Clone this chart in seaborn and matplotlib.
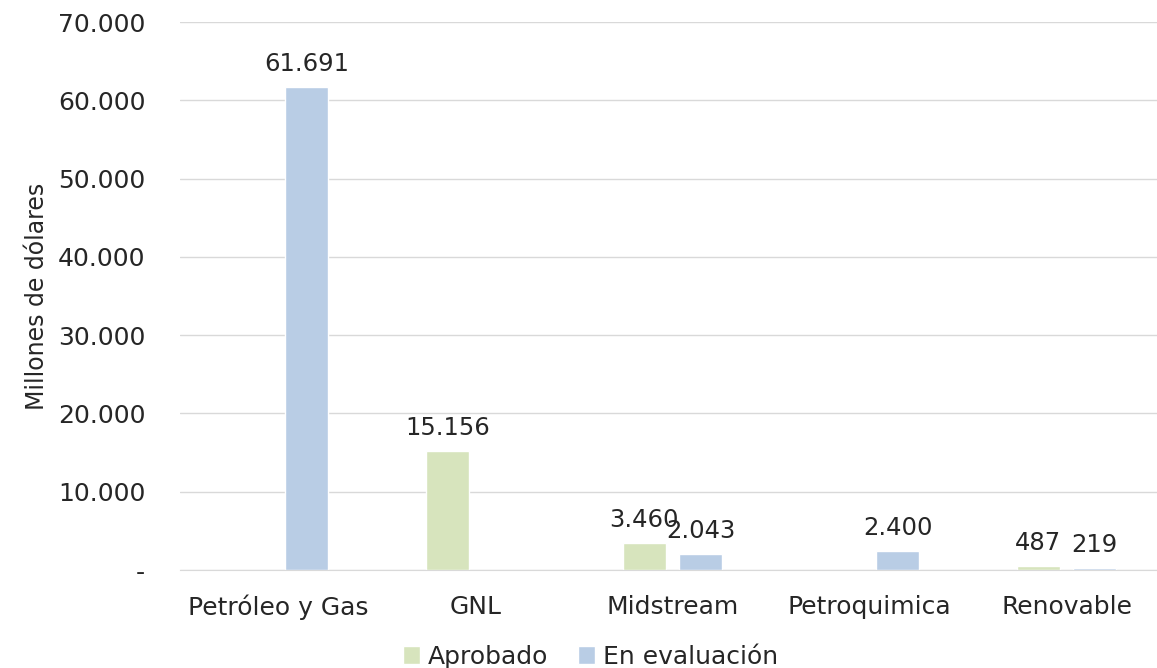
import pandas as pd
import numpy as np
import matplotlib
matplotlib.use('Agg')
import matplotlib.pyplot as plt
import seaborn as sns
import matplotlib.ticker as mticker

'''
    DATA
'''
categorias = ['Petróleo y Gas', 'GNL', 'Midstream', 'Petroquimica', 'Renovable']
aprobado = [np.nan, 15156, 3460, np.nan, 487]
en_evaluacion = [61691, np.nan, 2043, 2400, 219]
estados = ['Aprobado', 'En evaluación']
colores = ['#D7E4BD', '#B9CDE5']

df = pd.DataFrame({'sector': categorias, 'Aprobado': aprobado, 'En evaluación': en_evaluacion})
df = df.melt(id_vars = 'sector', var_name = 'estado', value_name = 'monto')

'''
    PLOT
'''
sns.set_style('white')
plt.rcParams['font.family'] = ['DejaVu Sans']

fig = plt.figure(figsize = (11.57, 6.68), dpi = 100)
ax = fig.add_axes([180 / 1157, 1 - 570 / 668, 977 / 1157, 548 / 668])

sns.barplot(
    data = df,
    x = 'sector', y = 'monto',
    hue = 'estado', hue_order = estados,
    palette = colores, saturation = 1,
    width = 0.57, gap = 0.22,
    ax = ax
    )

def fmt(v, pos = None):
    if v == 0:
        return '-'
    return '{:,.0f}'.format(v).replace(',', '.')

for cont in ax.containers:
    labels = ['' if np.isnan(v) else fmt(v) for v in cont.datavalues]
    ax.bar_label(cont, labels = labels, padding = 8, fontsize = 17.5, color = '#262626')

ax.set_ylim(0, 70000)
ax.set_xlim(-0.5, -0.5 + 977 / 197)
ax.yaxis.set_major_locator(mticker.MultipleLocator(10000))
ax.yaxis.set_major_formatter(mticker.FuncFormatter(fmt))
ax.grid(axis = 'y', color = '#D9D9D9', linewidth = 1)
ax.set_axisbelow(True)
for s in ['top', 'right', 'left']:
    ax.spines[s].set_visible(False)
ax.spines['bottom'].set_color('#D9D9D9')
ax.tick_params(axis = 'y', labelsize = 18, colors = '#262626', length = 0, pad = 25)
ax.tick_params(axis = 'x', labelsize = 18, colors = '#262626', length = 0, pad = 18)
ax.set_xlabel('')
ax.set_ylabel('Millones de dólares', fontsize = 17, color = '#262626', labelpad = 6)

ax.legend(
    loc = 'lower center', bbox_to_anchor = (0.42, -0.208),
    ncol = 2, frameon = False, fontsize = 18,
    handlelength = 0.7, handleheight = 0.7, handletextpad = 0.3, columnspacing = 1.2,
    borderpad = 0.1
    )

fig.savefig('out.png', dpi = 100)
